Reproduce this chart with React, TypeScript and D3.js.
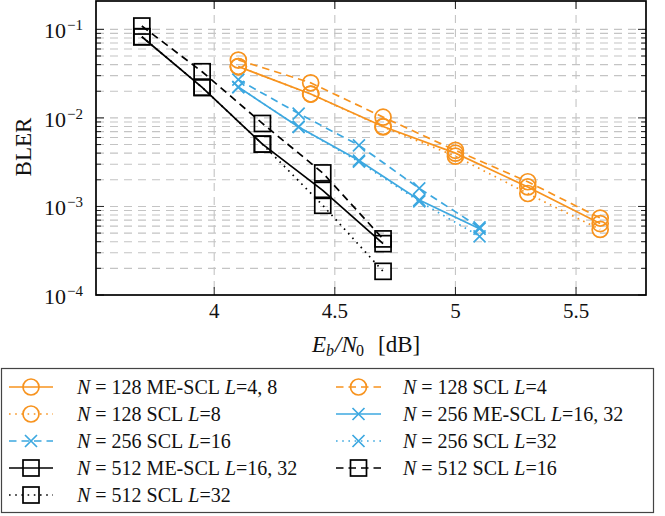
import React from 'react';
import * as d3 from 'd3';

// ---------- data ----------
const ebn0N128 = [4.1, 4.4, 4.7, 5.0, 5.3, 5.6];
const blerN128MeScl = [0.038, 0.0186, 0.008, 0.004, 0.00166, 0.00064];
const blerN128SclL4 = [0.045, 0.0249, 0.0102, 0.0043, 0.0019, 0.00074];
const blerN128SclL8 = [0.038, 0.0186, 0.0079, 0.0037, 0.0014, 0.00055];

const ebn0N256 = [4.1, 4.35, 4.6, 4.85, 5.1];
const blerN256MeScl = [0.0223, 0.0079, 0.0033, 0.00118, 0.00056];
const blerN256SclL16 = [0.027, 0.0112, 0.0049, 0.0016, 0.00058];
const blerN256SclL32 = [0.0223, 0.0079, 0.0032, 0.00114, 0.00046];

const ebn0N512 = [3.7, 3.95, 4.2, 4.45, 4.7];
const blerN512MeScl = [0.0825, 0.0221, 0.00505, 0.00152, 0.00038];
const blerN512SclL16 = [0.109, 0.0332, 0.00865, 0.00239, 0.00043];
const blerN512SclL32 = [0.0825, 0.0221, 0.00505, 0.00103, 0.000185];

const xTicks = [4, 4.5, 5, 5.5];
const xTickLabels = ['4', '4.5', '5', '5.5'];
const yDecades = [-4, -3, -2, -1];

const legendN = ['128', '128', '128', '256', '256', '256', '512', '512', '512'];
const legendMethod = ['ME-SCL', 'SCL', 'SCL', 'ME-SCL', 'SCL', 'SCL', 'ME-SCL', 'SCL', 'SCL'];
const legendL = ['4, 8', '4', '8', '16, 32', '16', '32', '16, 32', '16', '32'];

// ---------- styles ----------
const ORANGE = '#F7931E';
const BLUE = '#3DA8E0';
const BLACK = '#000000';
const DASHED = '7.5,5';
const DOTTED = '1.6,4.6';
const FONT = "'Liberation Serif', 'Times New Roman', serif";

type Marker = 'circle' | 'cross' | 'square';
interface Series { xs: number[]; ys: number[]; color: string; dash: string | undefined; marker: Marker; }

const series: Series[] = [
  { xs: ebn0N128, ys: blerN128MeScl, color: ORANGE, dash: undefined, marker: 'circle' },
  { xs: ebn0N128, ys: blerN128SclL4, color: ORANGE, dash: DASHED, marker: 'circle' },
  { xs: ebn0N128, ys: blerN128SclL8, color: ORANGE, dash: DOTTED, marker: 'circle' },
  { xs: ebn0N256, ys: blerN256MeScl, color: BLUE, dash: undefined, marker: 'cross' },
  { xs: ebn0N256, ys: blerN256SclL16, color: BLUE, dash: DASHED, marker: 'cross' },
  { xs: ebn0N256, ys: blerN256SclL32, color: BLUE, dash: DOTTED, marker: 'cross' },
  { xs: ebn0N512, ys: blerN512MeScl, color: BLACK, dash: undefined, marker: 'square' },
  { xs: ebn0N512, ys: blerN512SclL16, color: BLACK, dash: DASHED, marker: 'square' },
  { xs: ebn0N512, ys: blerN512SclL32, color: BLACK, dash: DOTTED, marker: 'square' },
];

const plot = { left: 96, right: 646, top: 1, bottom: 295 };

function MarkerShape({ kind, cx, cy, color }: { kind: Marker; cx: number; cy: number; color: string }) {
  const sw = 1.7;
  if (kind === 'circle') return <circle cx={cx} cy={cy} r={8} fill="none" stroke={color} strokeWidth={sw} />;
  if (kind === 'cross') {
    const s = 6;
    return <path d={`M${cx - s},${cy - s}L${cx + s},${cy + s}M${cx - s},${cy + s}L${cx + s},${cy - s}`} stroke={color} strokeWidth={sw} fill="none" />;
  }
  return <rect x={cx - 8} y={cy - 8} width={16} height={16} fill="none" stroke={color} strokeWidth={sw} />;
}

export default function App() {
  const x = d3.scaleLinear().domain([3.51, 5.79]).range([plot.left, plot.right]);
  const y = d3.scaleLog().domain([1e-4, 0.209]).range([plot.bottom, plot.top]);

  const line = d3.line<[number, number]>().x((d) => x(d[0])).y((d) => y(d[1]));

  const minorVals: number[] = [];
  yDecades.forEach((e) => {
    for (let k = 2; k <= 9; k++) {
      const v = k * Math.pow(10, e);
      if (y(v) > plot.top + 3) minorVals.push(v);
    }
  });
  const majorVals = yDecades.map((e) => Math.pow(10, e));

  const gridColor = '#c4c4c4';
  const gridDash = '8,6';

  const legendRowY = [387, 414, 441, 468, 495];
  const legendCols = [
    { l0: 9, l1: 53, m: 31, t: 77 },
    { l0: 336, l1: 381, m: 358.5, t: 403 },
  ];

  return (
    <svg width={665} height={516} style={{ position: 'absolute', left: 0, top: 0, background: '#fff' }} fontFamily={FONT}>
      <rect x={0} y={0} width={665} height={516} fill="#fff" />
      {/* grid */}
      <g>
        {minorVals.map((v, i) => (
          <line key={'mg' + i} x1={plot.left} x2={plot.right} y1={y(v)} y2={y(v)} stroke={gridColor} strokeWidth={1.1} strokeDasharray={gridDash} />
        ))}
        {majorVals.slice(1).map((v, i) => (
          <line key={'Mg' + i} x1={plot.left} x2={plot.right} y1={y(v)} y2={y(v)} stroke={gridColor} strokeWidth={1.1} strokeDasharray={gridDash} />
        ))}
        {xTicks.map((t, i) => (
          <line key={'xg' + i} x1={x(t)} x2={x(t)} y1={plot.top} y2={plot.bottom} stroke={gridColor} strokeWidth={1.1} strokeDasharray={gridDash} />
        ))}
      </g>
      {/* ticks */}
      <g stroke="#222" strokeWidth={1}>
        {minorVals.map((v, i) => (
          <g key={'mt' + i}>
            <line x1={plot.left} x2={plot.left + 5} y1={y(v)} y2={y(v)} />
            <line x1={plot.right} x2={plot.right - 5} y1={y(v)} y2={y(v)} />
          </g>
        ))}
        {majorVals.map((v, i) => (
          <g key={'Mt' + i}>
            <line x1={plot.left} x2={plot.left + 8} y1={y(v)} y2={y(v)} />
            <line x1={plot.right} x2={plot.right - 8} y1={y(v)} y2={y(v)} />
          </g>
        ))}
        {xTicks.map((t, i) => (
          <g key={'xt' + i}>
            <line x1={x(t)} x2={x(t)} y1={plot.bottom} y2={plot.bottom - 8} />
            <line x1={x(t)} x2={x(t)} y1={plot.top} y2={plot.top + 8} />
          </g>
        ))}
      </g>
      {/* data */}
      {series.map((s, i) => {
        const pts = s.xs.map((xv, j) => [xv, s.ys[j]] as [number, number]);
        return (
          <g key={'s' + i}>
            <path d={line(pts) || ''} fill="none" stroke={s.color} strokeWidth={1.7} strokeDasharray={s.dash} />
            {pts.map((p, j) => (
              <MarkerShape key={j} kind={s.marker} cx={x(p[0])} cy={y(p[1])} color={s.color} />
            ))}
          </g>
        );
      })}
      {/* frame */}
      <rect x={plot.left} y={plot.top} width={plot.right - plot.left} height={plot.bottom - plot.top} fill="none" stroke="#000" strokeWidth={1.7} />
      {/* y tick labels */}
      {yDecades.map((e, i) => {
        const ty = y(Math.pow(10, e));
        return (
          <g key={'yl' + i} fill="#111">
            <text x={66} y={ty + 9} textAnchor="end" fontSize={22}>10</text>
            <text x={67} y={ty + 1} textAnchor="start" fontSize={15}>{'\u2212' + String(-e)}</text>
          </g>
        );
      })}
      {/* x tick labels */}
      {xTicks.map((t, i) => (
        <text key={'xl' + i} x={x(t)} y={318} textAnchor="middle" fontSize={21} fill="#111">{xTickLabels[i]}</text>
      ))}
      {/* axis labels */}
      <g fill="#111" fontSize={23}>
        <text x={312} y={352} fontStyle="italic">E</text>
        <text x={326} y={356} fontStyle="italic" fontSize={16}>b</text>
        <text x={335} y={352} fontStyle="italic">/N</text>
        <text x={356} y={356} fontSize={16}>0</text>
        <text x={378} y={352}>[dB]</text>
      </g>
      <text transform="translate(31,147) rotate(-90)" textAnchor="middle" fontSize={23} fill="#111">BLER</text>
      {/* legend */}
      <rect x={1.5} y={368.5} width={652} height={144} fill="#fff" stroke="#444" strokeWidth={1.2} />
      {series.map((s, i) => {
        const row = Math.floor(i / 2);
        const col = legendCols[i % 2];
        const cy = legendRowY[row];
        return (
          <g key={'lg' + i}>
            <line x1={col.l0} x2={col.l1} y1={cy} y2={cy} stroke={s.color} strokeWidth={1.7} strokeDasharray={s.dash} />
            <MarkerShape kind={s.marker} cx={col.m} cy={cy} color={s.color} />
            <text x={col.t} y={cy + 7} fontSize={20} fill="#111">
              <tspan fontStyle="italic">N</tspan>
              <tspan>{'\u00a0=\u00a0' + legendN[i] + '\u00a0' + legendMethod[i] + '\u00a0'}</tspan>
              <tspan fontStyle="italic">L</tspan>
              <tspan>{'=' + legendL[i]}</tspan>
            </text>
          </g>
        );
      })}
    </svg>
  );
}
